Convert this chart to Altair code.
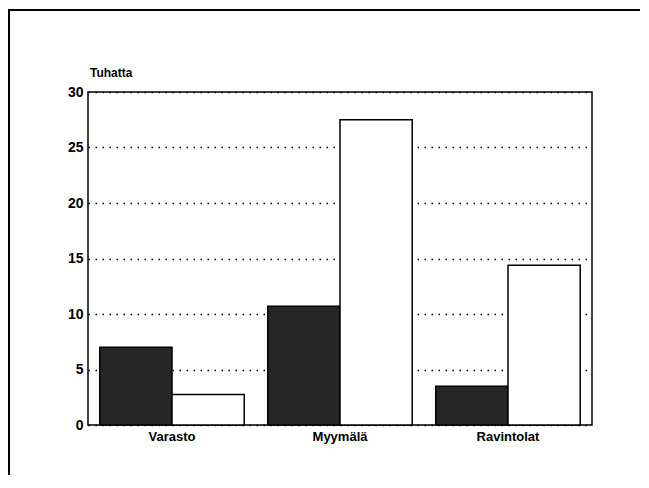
import altair as alt
import pandas as pd

categories = ["Varasto", "Myymälä", "Ravintolat"]
series = ["A", "B"]
values_a = [7.0, 10.7, 3.5]
values_b = [2.75, 27.5, 14.4]
y_ticks = [0, 5, 10, 15, 20, 25, 30]
y_title = "Tuhatta"

rows = []
for c, a, b in zip(categories, values_a, values_b):
    rows.append({"cat": c, "ser": series[0], "val": a})
    rows.append({"cat": c, "ser": series[1], "val": b})
df = pd.DataFrame(rows)

W, H = 504, 333
FONT = "Liberation Sans"

bars = alt.Chart(df).mark_bar(stroke="black", strokeWidth=1.5).encode(
    x=alt.X("cat:N", sort=categories,
            scale=alt.Scale(paddingInner=0.14, paddingOuter=0.07),
            axis=alt.Axis(title=None, labelAngle=0, ticks=False, domain=False,
                          labelPadding=5, labelFontSize=13, labelFontWeight="bold",
                          labelFont=FONT, labelColor="black")),
    xOffset=alt.XOffset("ser:N", sort=series, scale=alt.Scale(paddingInner=0, paddingOuter=0)),
    y=alt.Y("val:Q", scale=alt.Scale(domain=[0, 30], nice=False),
            axis=alt.Axis(title=None, values=y_ticks, ticks=False, domain=False,
                          labelPadding=5, labelFontSize=14, labelFontWeight="bold",
                          labelFont=FONT, labelColor="black",
                          grid=True, gridColor="black", gridDash=[1.5, 5.5],
                          gridWidth=1.5, gridOpacity=1)),
    fill=alt.Fill("ser:N", scale=alt.Scale(domain=series, range=["#262626", "white"]),
                  legend=None),
)

title = alt.Chart(pd.DataFrame({"t": [y_title]})).mark_text(
    align="left", baseline="middle", font=FONT, fontSize=12, fontWeight="bold",
    color="black"
).encode(text="t:N", x=alt.value(2), y=alt.value(-19))

frame_df = pd.DataFrame({"k": [0]})
frame_left = alt.Chart(frame_df).mark_rule(color="black", strokeWidth=2).encode(
    x=alt.value(-79), y=alt.value(-82), y2=alt.value(H + 50))
frame_top = alt.Chart(frame_df).mark_rule(color="black", strokeWidth=2).encode(
    x=alt.value(-80), x2=alt.value(W + 49), y=alt.value(-82))

chart = alt.layer(bars, title, frame_left, frame_top).properties(
    width=W, height=H,
    autosize=alt.AutoSizeParams(type="none"),
    padding={"left": 80, "top": 84, "right": 48, "bottom": 50},
    background="white",
).configure_view(stroke="black", strokeWidth=1.5)

chart.save("out.html", embed_options={"renderer": "svg", "actions": False})
